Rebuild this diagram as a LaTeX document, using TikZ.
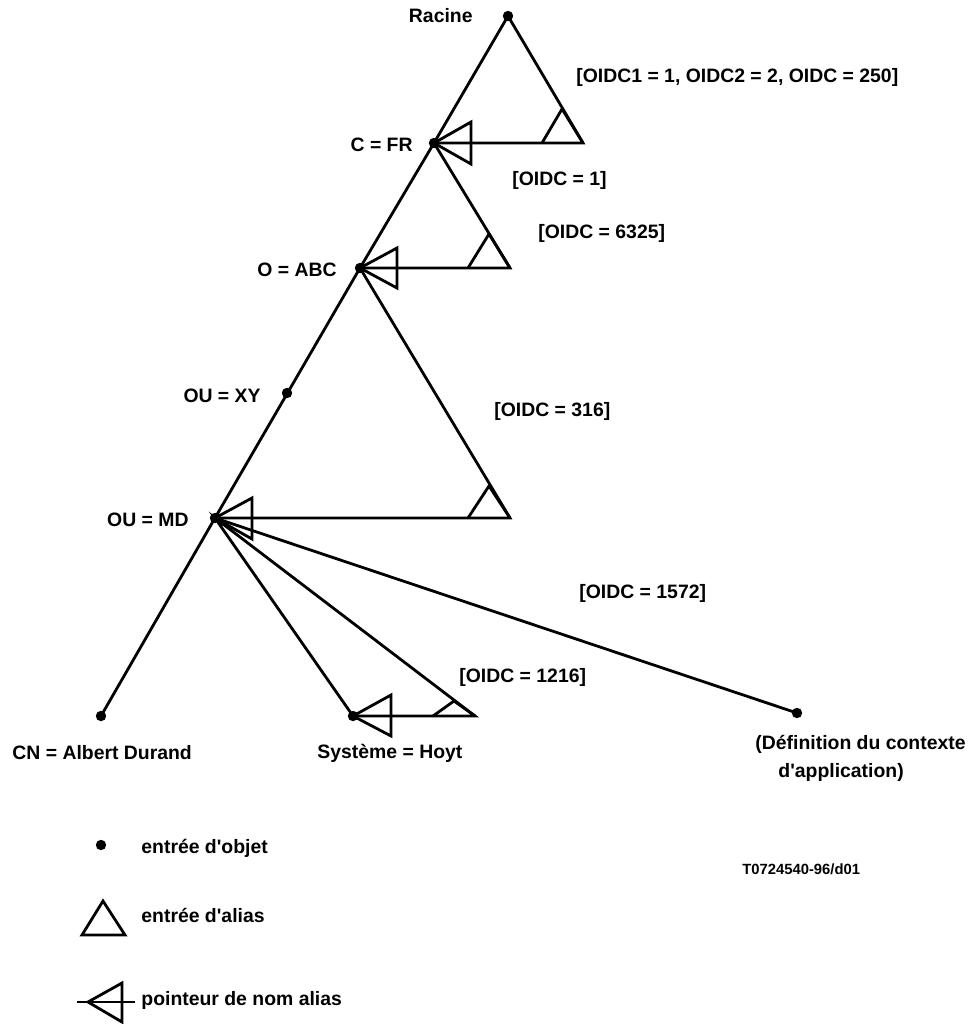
\documentclass[tikz,border=0pt]{standalone}
\usepackage{fontspec}
\setmainfont{Liberation Sans}[Ligatures=TeXOff]
\begin{document}
\begin{tikzpicture}[x=0.5pt, y=-0.5pt, line width=1.4pt,
  lbl/.style={font=\fontsize{9.7}{11}\selectfont\bfseries, inner sep=0pt},
  entdot/.style={fill=black}]
  \useasboundingbox (0,0) rectangle (973,1024);
  \coordinate (R) at (508,16); \coordinate (CFR) at (434,143); \coordinate (T1) at (583,143);
  \coordinate (OABC) at (360,268); \coordinate (T2) at (510,268);
  \coordinate (OUXY) at (287,393); \coordinate (OUMD) at (215,518); \coordinate (T3) at (510,518);
  \coordinate (CN) at (101,716); \coordinate (SH) at (353,716); \coordinate (T4) at (475,716);
  \coordinate (DCA) at (797,713);
  % sous-arbres
  \draw (R) -- (T1) -- (CFR) -- cycle;
  \draw (CFR) -- (T2) -- (OABC) -- cycle;
  \draw (OABC) -- (T3) -- (OUMD) -- cycle;
  \draw (OUMD) -- (T4) -- (SH) -- cycle;
  \draw (OUMD) -- (CN);
  \draw (OUMD) -- (DCA);
  % entrees d'alias
  \draw (542,143) -- (562,109) -- (T1);
  \draw (468,268) -- (489,234) -- (T2);
  \draw (468,518) -- (489,486) -- (T3);
  \draw (433,716) -- (454,701) -- (T4);
  % pointeurs de nom alias
  \draw (CFR) -- ++(37,-21) -- ++(0,42) -- cycle;
  \draw (OABC) -- ++(37,-20) -- ++(0,40) -- cycle;
  \draw (OUMD) -- ++(37,-20) -- ++(0,41) -- cycle;
  \draw (SH) -- ++(38,-21) -- ++(0,41) -- cycle;
  % entrees d'objet
  \foreach \p in {R,CFR,OABC,OUXY,OUMD,CN,SH,DCA}
    \fill[entdot] (\p) circle (2.6pt);
  \node[lbl, anchor=east] (racine) at (474,16) {Racine};
  \node[lbl, anchor=east] (cfr) at (414,145) {C = FR};
  \node[lbl, anchor=east] (oabc) at (338,270) {O = ABC};
  \node[lbl, anchor=east] (ouxy) at (262,396) {OU = XY};
  \node[lbl, anchor=east] (oumd) at (190,520) {OU = MD};
  \node[lbl, anchor=west] (cn) at (11,753) {CN = Albert Durand};
  \node[lbl, anchor=west] (sh) at (316,753) {Système = Hoyt};
  \node[lbl, anchor=east] (dca1) at (967,744) {(Définition du contexte};
  \node[lbl, anchor=west] (dca2) at (777,772) {d'application)};
  \node[lbl, anchor=west] (o250) at (575,77) {[OIDC1 = 1, OIDC2 = 2, OIDC = 250]};
  \node[lbl, anchor=west] (o1) at (511,180) {[OIDC = 1]};
  \node[lbl, anchor=west] (o6325) at (537,233) {[OIDC = 6325]};
  \node[lbl, anchor=west] (o316) at (493,411) {[OIDC = 316]};
  \node[lbl, anchor=west] (o1572) at (578,593) {[OIDC = 1572]};
  \node[lbl, anchor=west] (o1216) at (458,677) {[OIDC = 1216]};
  % legende
  \coordinate (LD) at (101,845);
  \fill[entdot] (LD) circle (2.6pt);
  \node[lbl, anchor=west] (lobj) at (140,848) {entrée d'objet};
  \draw (82,935) -- (103,901) -- (125,935) -- cycle;
  \node[lbl, anchor=west] (lal) at (140,915) {entrée d'alias};
  \coordinate (LP) at (88,1002);
  \draw (77,1002) -- (135,1002);
  \draw (LP) -- ++(34,-19) -- ++(0,39) -- cycle;
  \node[lbl, anchor=west] (lptr) at (140,1000) {pointeur de nom alias};
  \node[font=\fontsize{7.4}{9}\selectfont\bfseries, inner sep=0pt, anchor=west] (ref) at (741,869) {T0724540-96/d01};
\end{tikzpicture}
\end{document}
